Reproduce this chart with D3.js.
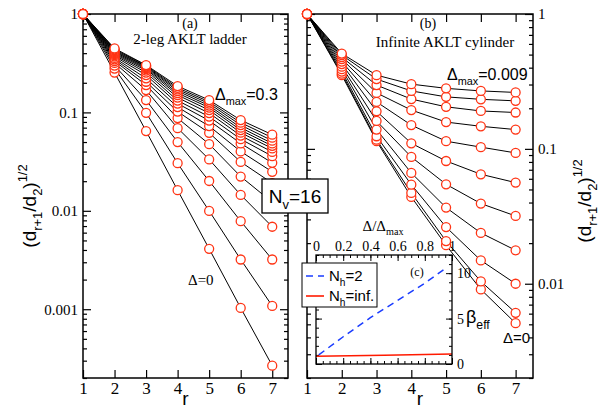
<!DOCTYPE html>
<html><head><meta charset="utf-8">
<script src="https://cdn.jsdelivr.net/npm/d3@7"></script>
<style>body{margin:0;background:#fff}svg{display:block}</style>
</head><body><svg id="c" width="599" height="411"></svg>
<script>
// ---------------- DATA ----------------
const rValues = [1, 2, 3, 4, 5, 6, 7];
const xTicks = [1, 2, 3, 4, 5, 6, 7];

// (a) 2-leg AKLT ladder, Delta = 0 ... 0.3 (bottom to top)
const ladderDelta = [0, 0.02, 0.04, 0.06, 0.08, 0.10, 0.12, 0.14, 0.16, 0.18, 0.20, 0.22, 0.24, 0.26, 0.28, 0.30];
const ladder00 = [1, 0.254, 0.0646, 0.0162, 0.00411, 0.00103, 0.000267];
const ladder02 = [1, 0.279, 0.0991, 0.0305, 0.00998, 0.00320, 0.00108];
const ladder04 = [1, 0.299, 0.1334, 0.0499, 0.0201, 0.00784, 0.00320];
const ladder06 = [1, 0.318, 0.1686, 0.0692, 0.0333, 0.0145, 0.00689];
const ladder08 = [1, 0.333, 0.1897, 0.0875, 0.0476, 0.0223, 0.01223];
const ladder10 = [1, 0.346, 0.2049, 0.1019, 0.0620, 0.0314, 0.0191];
const ladder12 = [1, 0.358, 0.2218, 0.1132, 0.0726, 0.0401, 0.0249];
const ladder14 = [1, 0.371, 0.2395, 0.1229, 0.0826, 0.0484, 0.0307];
const ladder16 = [1, 0.382, 0.254, 0.1318, 0.0906, 0.0535, 0.0359];
const ladder18 = [1, 0.392, 0.266, 0.1415, 0.0984, 0.0581, 0.0397];
const ladder20 = [1, 0.401, 0.2757, 0.150, 0.1055, 0.0623, 0.0430];
const ladder22 = [1, 0.411, 0.2825, 0.1572, 0.1119, 0.0661, 0.0457];
const ladder24 = [1, 0.419, 0.2891, 0.1648, 0.1172, 0.0700, 0.0484];
const ladder26 = [1, 0.428, 0.2938, 0.1714, 0.1229, 0.0743, 0.0516];
const ladder28 = [1, 0.438, 0.2985, 0.1779, 0.1282, 0.0787, 0.0554];
const ladder30 = [1, 0.447, 0.3029, 0.1852, 0.1334, 0.0835, 0.0594];
const ladderSeries = [ladder00, ladder02, ladder04, ladder06, ladder08, ladder10, ladder12, ladder14,
  ladder16, ladder18, ladder20, ladder22, ladder24, ladder26, ladder28, ladder30];

// (b) Infinite AKLT cylinder, Delta = 0 ... 0.009 (bottom to top)
const cylDelta = [0, 0.0009, 0.0018, 0.0027, 0.0036, 0.0045, 0.0054, 0.0063, 0.0072, 0.0081, 0.009];
const cyl0 = [1, 0.352, 0.114, 0.0440, 0.0193, 0.00907, 0.00510];
const cyl1 = [1, 0.361, 0.117, 0.0471, 0.0207, 0.0104, 0.00609];
const cyl2 = [1, 0.374, 0.124, 0.0543, 0.0263, 0.0149, 0.0100];
const cyl3 = [1, 0.390, 0.139, 0.0663, 0.0367, 0.0238, 0.0177];
const cyl4 = [1, 0.407, 0.161, 0.0871, 0.0546, 0.0393, 0.0318];
const cyl5 = [1, 0.425, 0.190, 0.110, 0.0813, 0.0648, 0.0562];
const cyl6 = [1, 0.444, 0.223, 0.150, 0.114, 0.103, 0.0933];
const cyl7 = [1, 0.463, 0.260, 0.194, 0.158, 0.147, 0.139];
const cyl8 = [1, 0.479, 0.297, 0.234, 0.205, 0.191, 0.186];
const cyl9 = [1, 0.496, 0.329, 0.269, 0.243, 0.233, 0.227];
const cyl10 = [1, 0.509, 0.352, 0.302, 0.281, 0.269, 0.262];
const cylSeries = [cyl0, cyl1, cyl2, cyl3, cyl4, cyl5, cyl6, cyl7, cyl8, cyl9, cyl10];

const leftYTicks = [1, 0.1, 0.01, 0.001];
const leftYTickLabels = ["1", "0.1", "0.01", "0.001"];
const rightYTicks = [1, 0.1, 0.01];
const rightYTickLabels = ["1", "0.1", "0.01"];

// (c) inset: beta_eff vs Delta/Delta_max
const insetXTicks = [0, 0.2, 0.4, 0.6, 0.8, 1];
const insetXTickLabels = ["0", "0.2", "0.4", "0.6", "0.8", "1"];
const insetYTicks = [0, 5, 10];
const insetYTickLabels = ["0", "5", "10"];
const nh2X = [0.02, 0.2, 0.4, 0.6, 0.8, 0.96];
const nh2Y = [1.0, 3.0, 5.1, 7.0, 8.9, 10.6];
const nhInfX = [0, 0.5, 1];
const nhInfY = [0.85, 0.97, 1.1];

// ---------------- DRAW ----------------
const svg = d3.select('#c');
const RED = '#ff3414';
const SERIF = '"Liberation Serif", "Times New Roman", serif';
const SANS = '"Liberation Sans", Arial, sans-serif';

function rich(sel, parts, size, subShift) {
  let shift = 0;
  const ss = subShift === undefined ? 0.32 : subShift;
  parts.forEach(([s, t]) => {
    const target = t === 'sub' ? size * ss : t === 'sup' ? -size * 0.45 : 0;
    sel.append('tspan').attr('dy', target - shift)
      .attr('font-size', t === 'n' ? size : size * 0.68).text(s);
    shift = target;
  });
}

const L = {x0: 83, x1: 288, y0: 14, y1: 378};
const R = {x0: 307, x1: 533, y0: 14, y1: 378};
const xL = d3.scaleLinear().domain([1, 7.5]).range([L.x0, L.x1]);
const yL = d3.scaleLog().domain([0.0002, 1]).range([L.y1, L.y0]);
const xR = d3.scaleLinear().domain([1, 7.5]).range([R.x0, R.x1]);
const yR = d3.scaleLog().domain([0.002, 1]).range([R.y1, R.y0]);

function isMajor(v) { const l = Math.log10(v); return Math.abs(l - Math.round(l)) < 1e-6; }

function styleAxis(g, fontFam, fs) {
  g.select('.domain').remove();
  g.selectAll('.tick line').attr('stroke', '#000').attr('stroke-width', 1.2);
  g.selectAll('.tick text').attr('font-family', fontFam).attr('font-size', fs).attr('fill', '#000');
}

function panelAxes(P, x, y, yTicks, yLabels, labelSide) {
  const g = svg.append('g');
  const minors = y.ticks().filter(v => !isMajor(v));
  const bx = g.append('g').attr('transform', `translate(0,${P.y1})`)
    .call(d3.axisBottom(x).tickValues(xTicks).tickSize(-8).tickPadding(4).tickFormat(d3.format('d')));
  styleAxis(bx, SERIF, 17);
  const tx = g.append('g').attr('transform', `translate(0,${P.y0})`)
    .call(d3.axisTop(x).tickValues(xTicks).tickSize(-8).tickFormat(''));
  styleAxis(tx, SERIF, 15);
  const la = g.append('g').attr('transform', `translate(${P.x0},0)`)
    .call(d3.axisLeft(y).tickValues(yTicks).tickSize(-8).tickPadding(5)
      .tickFormat((d, i) => labelSide === 'left' ? yLabels[i] : ''));
  styleAxis(la, SERIF, 15);
  const lm = g.append('g').attr('transform', `translate(${P.x0},0)`)
    .call(d3.axisLeft(y).tickValues(minors).tickSize(-4).tickFormat(''));
  styleAxis(lm, SERIF, 15);
  const ra = g.append('g').attr('transform', `translate(${P.x1},0)`)
    .call(d3.axisRight(y).tickValues(yTicks).tickSize(-8).tickPadding(5)
      .tickFormat((d, i) => labelSide === 'right' ? yLabels[i] : ''));
  styleAxis(ra, SERIF, 15);
  const rm = g.append('g').attr('transform', `translate(${P.x1},0)`)
    .call(d3.axisRight(y).tickValues(minors).tickSize(-4).tickFormat(''));
  styleAxis(rm, SERIF, 15);
  g.append('rect').attr('x', P.x0).attr('y', P.y0).attr('width', P.x1 - P.x0).attr('height', P.y1 - P.y0)
    .attr('fill', 'none').attr('stroke', '#000').attr('stroke-width', 1.5);
}

function drawSeries(series, x, y) {
  const g = svg.append('g');
  const line = d3.line().x((d, i) => x(rValues[i])).y(d => y(d));
  series.forEach(s => {
    g.append('path').attr('d', line(s)).attr('fill', 'none').attr('stroke', '#000').attr('stroke-width', 1);
  });
  series.forEach(s => {
    g.selectAll(null).data(s).enter().append('circle')
      .attr('cx', (d, i) => x(rValues[i])).attr('cy', d => y(d)).attr('r', 4.5)
      .attr('fill', '#fff').attr('stroke', RED).attr('stroke-width', 1.3);
  });
}

panelAxes(L, xL, yL, leftYTicks, leftYTickLabels, 'left');
panelAxes(R, xR, yR, rightYTicks, rightYTickLabels, 'right');
drawSeries(ladderSeries, xL, yL);
drawSeries(cylSeries, xR, yR);

// axis titles
function yTitle(cx, cy) {
  const t = svg.append('text').attr('transform', `translate(${cx},${cy}) rotate(-90)`)
    .attr('text-anchor', 'middle').attr('font-family', SANS).attr('font-size', 19).attr('fill', '#000');
  rich(t, [['(d', 'n'], ['r+1', 'sub'], ['/d', 'n'], ['2', 'sub'], [')', 'n'], ['1/2', 'sup']], 19);
}
yTitle(36, 206);
yTitle(591, 201);
svg.append('text').attr('x', (L.x0 + L.x1) / 2).attr('y', 405).attr('text-anchor', 'middle')
  .attr('font-family', SANS).attr('font-size', 19).text('r');
svg.append('text').attr('x', (R.x0 + R.x1) / 2).attr('y', 405).attr('text-anchor', 'middle')
  .attr('font-family', SANS).attr('font-size', 19).text('r');

// annotations panel (a)
svg.append('text').attr('x', 190).attr('y', 28).attr('text-anchor', 'middle')
  .attr('font-family', SERIF).attr('font-size', 14).text('(a)');
svg.append('text').attr('x', 190).attr('y', 44).attr('text-anchor', 'middle')
  .attr('font-family', SERIF).attr('font-size', 15).text('2-leg AKLT ladder');
const da = svg.append('text').attr('x', 215).attr('y', 100).attr('font-family', SANS).attr('fill', '#000');
rich(da, [['Δ', 'n'], ['max', 'sub'], ['=0.3', 'n']], 16);
svg.append('text').attr('x', 188).attr('y', 285).attr('font-family', SERIF).attr('font-size', 15).text('Δ=0');

// annotations panel (b)
svg.append('text').attr('x', 428).attr('y', 28).attr('text-anchor', 'middle')
  .attr('font-family', SERIF).attr('font-size', 14).text('(b)');
svg.append('text').attr('x', 445).attr('y', 47).attr('text-anchor', 'middle')
  .attr('font-family', SERIF).attr('font-size', 15).text('Infinite AKLT cylinder');
const db = svg.append('text').attr('x', 447).attr('y', 80).attr('font-family', SANS).attr('fill', '#000');
rich(db, [['Δ', 'n'], ['max', 'sub'], ['=0.009', 'n']], 16);
svg.append('text').attr('x', 503).attr('y', 343).attr('font-family', SANS).attr('font-size', 15).text('Δ=0');

// N_v box
svg.append('rect').attr('x', 262).attr('y', 179).attr('width', 66).attr('height', 34)
  .attr('fill', '#fff').attr('stroke', '#000').attr('stroke-width', 1.3);
const nv = svg.append('text').attr('x', 295).attr('y', 203).attr('text-anchor', 'middle')
  .attr('font-family', SANS).attr('fill', '#000');
rich(nv, [['N', 'n'], ['v', 'sub'], ['=16', 'n']], 19);

// ---------- inset (c) ----------
const I = {x0: 316, x1: 452, y0: 255, y1: 364};
const xI = d3.scaleLinear().domain([0, 1]).range([I.x0, I.x1]);
const yI = d3.scaleLinear().domain([0, 12]).range([I.y1, I.y0]);
svg.append('rect').attr('x', I.x0).attr('y', I.y0).attr('width', I.x1 - I.x0).attr('height', I.y1 - I.y0)
  .attr('fill', '#fff');
const gi = svg.append('g');
const ixMinor = d3.range(0, 1.0001, 0.05);
const iyMinor = d3.range(0, 12.0001, 1);
let a;
a = gi.append('g').attr('transform', `translate(0,${I.y0})`)
  .call(d3.axisTop(xI).tickValues(insetXTicks).tickSize(-6).tickPadding(4).tickFormat((d, i) => insetXTickLabels[i]));
styleAxis(a, SERIF, 14);
a = gi.append('g').attr('transform', `translate(0,${I.y0})`)
  .call(d3.axisTop(xI).tickValues(ixMinor).tickSize(-3).tickFormat(''));
styleAxis(a, SERIF, 14);
a = gi.append('g').attr('transform', `translate(0,${I.y1})`)
  .call(d3.axisBottom(xI).tickValues(insetXTicks).tickSize(-6).tickFormat(''));
styleAxis(a, SERIF, 14);
a = gi.append('g').attr('transform', `translate(0,${I.y1})`)
  .call(d3.axisBottom(xI).tickValues(ixMinor).tickSize(-3).tickFormat(''));
styleAxis(a, SERIF, 14);
a = gi.append('g').attr('transform', `translate(${I.x1},0)`)
  .call(d3.axisRight(yI).tickValues(insetYTicks).tickSize(-6).tickPadding(5).tickFormat((d, i) => insetYTickLabels[i]));
styleAxis(a, SERIF, 14);
a = gi.append('g').attr('transform', `translate(${I.x1},0)`)
  .call(d3.axisRight(yI).tickValues(iyMinor).tickSize(-3).tickFormat(''));
styleAxis(a, SERIF, 14);
a = gi.append('g').attr('transform', `translate(${I.x0},0)`)
  .call(d3.axisLeft(yI).tickValues(insetYTicks).tickSize(-6).tickFormat(''));
styleAxis(a, SERIF, 14);
a = gi.append('g').attr('transform', `translate(${I.x0},0)`)
  .call(d3.axisLeft(yI).tickValues(iyMinor).tickSize(-3).tickFormat(''));
styleAxis(a, SERIF, 14);
gi.selectAll('.tick line').attr('stroke-width', 1);

const iline = d3.line().x(d => xI(d[0])).y(d => yI(d[1]));
gi.append('path').attr('d', iline(nhInfX.map((v, i) => [v, nhInfY[i]])))
  .attr('fill', 'none').attr('stroke', '#ff1a00').attr('stroke-width', 1.6);
gi.append('path').attr('d', iline(nh2X.map((v, i) => [v, nh2Y[i]])))
  .attr('fill', 'none').attr('stroke', '#1a3cff').attr('stroke-width', 1.5).attr('stroke-dasharray', '7,5');
gi.append('rect').attr('x', I.x0).attr('y', I.y0).attr('width', I.x1 - I.x0).attr('height', I.y1 - I.y0)
  .attr('fill', 'none').attr('stroke', '#000').attr('stroke-width', 1.3);

const it = svg.append('text').attr('x', 383).attr('y', 231).attr('text-anchor', 'middle')
  .attr('font-family', SERIF).attr('fill', '#000');
rich(it, [['Δ/Δ', 'n'], ['max', 'sub']], 15, 0.25);
const be = svg.append('text').attr('x', 466).attr('y', 323).attr('font-family', SANS).attr('fill', '#000');
rich(be, [['β', 'n'], ['eff', 'sub']], 18);
svg.append('text').attr('x', 417).attr('y', 276).attr('text-anchor', 'middle')
  .attr('font-family', SERIF).attr('font-size', 12).text('(c)');

// legend
svg.append('rect').attr('x', 302).attr('y', 263).attr('width', 75).attr('height', 44)
  .attr('fill', '#fff').attr('stroke', '#000').attr('stroke-width', 1);
svg.append('line').attr('x1', 306).attr('x2', 324).attr('y1', 276).attr('y2', 276)
  .attr('stroke', '#1a3cff').attr('stroke-width', 1.5).attr('stroke-dasharray', '7,5');
svg.append('line').attr('x1', 306).attr('x2', 324).attr('y1', 296).attr('y2', 296)
  .attr('stroke', '#ff1a00').attr('stroke-width', 1.6);
const l1 = svg.append('text').attr('x', 329).attr('y', 281).attr('font-family', SANS).attr('fill', '#000');
rich(l1, [['N', 'n'], ['h', 'sub'], ['=2', 'n']], 15);
const l2 = svg.append('text').attr('x', 329).attr('y', 301).attr('font-family', SANS).attr('fill', '#000');
rich(l2, [['N', 'n'], ['h', 'sub'], ['=inf.', 'n']], 15);
</script></body></html>
